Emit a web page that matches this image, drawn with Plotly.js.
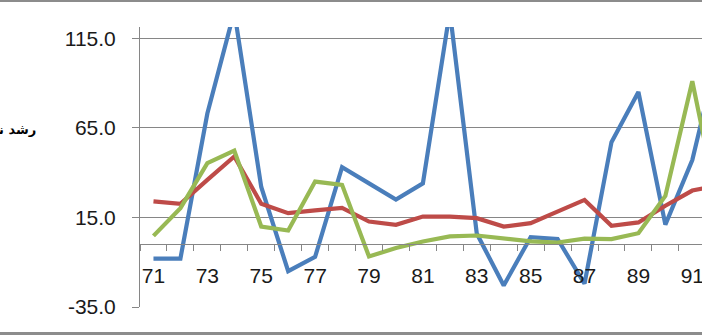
<!DOCTYPE html>
<html>
<head>
<meta charset="utf-8">
<script src="https://cdn.plot.ly/plotly-3.0.1.min.js"></script>
<style>
html,body{margin:0;padding:0;background:#fff;overflow:hidden;}
#wrap{position:relative;width:702px;height:335px;}
#chart{width:702px;height:335px;}
.bt{position:absolute;left:0;width:702px;background:#8c8c8c;}
</style>
</head>
<body>
<div id="wrap">
<div id="chart"></div>
<div class="bt" style="top:0;height:2px;"></div>
<div class="bt" style="top:332px;height:3px;"></div>
</div>
<script>
// categories (years)
const years = [71,72,73,74,75,76,77,78,79,80,81,82,83,84,85,86,87,88,89,90,91,92];
// series values
const blueSeries  = [-8,-8,73,130,32,-15,-7,43,34,25,34,130,6,-23,4,3,-22,57,85,11,47,110];
const redSeries   = [24,22.6,36,49,22.6,17.4,18.9,20.3,12.7,10.9,15.5,15.5,14.6,9.9,11.8,18.3,24.8,10.3,12.2,21.5,30,33];
const greenSeries = [4.7,20.2,45.3,52.3,9.9,7.7,35,33.2,-6.8,-2.1,1.6,4.4,4.9,3.1,1.6,1,3.2,2.9,6.2,27,91,18];
// tick labels
const xTickVals = [71,73,75,77,79,81,83,85,87,89,91];
const xTickText = xTickVals.map(String);
const yTickVals = [-35,15,65,115];
const yTickText = ["-35.0","15.0","65.0","115.0"];
// visible part of the axis title (cut by the picture edge in the reference)
const yTitle = "رشد ن\u200D";

const yMin = -35, yMax = 121.3;
const mk = (y, color) => ({
  x: years, y: y, type: 'scatter', mode: 'lines',
  line: {color: color, width: 4.2}, showlegend: false, hoverinfo: 'skip'
});

const data = [
  mk(blueSeries, '#4A7EBB'),
  mk(redSeries, '#BE4B48'),
  mk(greenSeries, '#98B954')
];

const layout = {
  width: 702, height: 335,
  margin: {l: 140, r: 0, t: 27, b: 28, pad: 0},
  paper_bgcolor: '#ffffff', plot_bgcolor: '#ffffff',
  font: {family: '"Liberation Sans", Arial, sans-serif', size: 21, color: '#1a1a1a'},
  xaxis: {
    type: 'linear', range: [70.5, 91.36],
    anchor: 'free', position: (0 - yMin) / (yMax - yMin),
    showgrid: false, zeroline: false,
    showline: true, linecolor: '#868686', linewidth: 1,
    tickmode: 'array', tickvals: xTickVals, ticktext: xTickText,
    ticks: '', ticklabelstandoff: 12, ticklabeloverflow: 'allow',
    minor: {ticks: 'outside', ticklen: 6, tickcolor: '#868686', tick0: 70.5, dtick: 1, showgrid: false},
    tickfont: {size: 21, color: '#1a1a1a'}
  },
  yaxis: {
    range: [yMin, yMax],
    tickmode: 'array', tickvals: yTickVals, ticktext: yTickText,
    showgrid: true, gridcolor: '#868686', gridwidth: 1,
    zeroline: false,
    showline: true, linecolor: '#868686', linewidth: 1,
    ticks: 'outside', ticklen: 7, tickcolor: '#868686',
    ticklabelstandoff: 12,
    tickfont: {size: 21, color: '#1a1a1a'}
  },
  annotations: [{
    xref: 'paper', yref: 'paper',
    x: (38 - 140) / 562, y: (307 - 129) / 280,
    xanchor: 'right', yanchor: 'middle',
    text: '<b>' + yTitle + '</b>', showarrow: false,
    font: {family: '"DejaVu Sans", sans-serif', size: 13, color: '#000'}
  }]
};

Plotly.newPlot('chart', data, layout, {staticPlot: true, displayModeBar: false});
</script>
</body>
</html>
